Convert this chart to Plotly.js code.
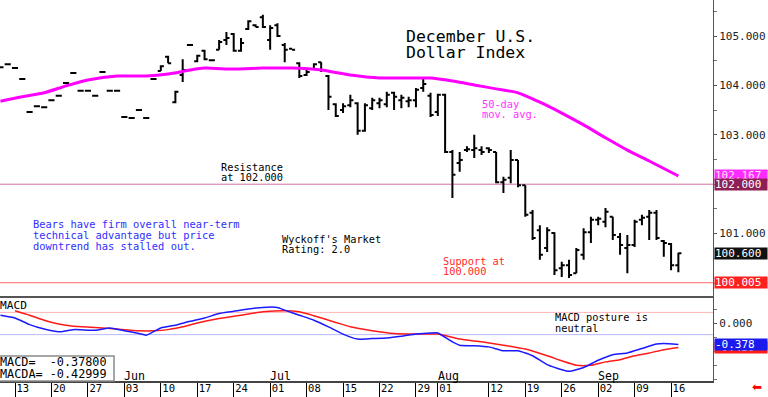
<!DOCTYPE html>
<html><head><meta charset="utf-8">
<script src="https://cdn.plot.ly/plotly-3.0.1.min.js"></script>
<style>html,body{margin:0;padding:0;background:#fff;}#chart{width:768px;height:397px;}</style>
</head><body><div id="chart"></div>
<script>
// ---------- DATA ----------
const firstBar = -2; // bar index of first bar (May 13 = 0)
const open  = [104.37,104.43,104.35,104.13,103.46,103.58,103.56,103.70,103.79,104.05,104.25,103.89,103.89,103.79,104.27,103.89,103.89,103.36,103.34,103.50,103.34,104.13,
  104.29,104.58,103.66,104.21,104.82,104.49,104.70,104.51,104.72,104.92,105.04,104.70,105.14,105.22,105.38,104.92,105.22,104.82,104.74,104.45,104.21,104.33,104.47,
  104.19,103.62,103.50,103.60,103.64,103.08,103.54,103.64,103.62,103.85,103.70,103.68,103.70,103.95,103.79,103.46,103.81,102.65,102.43,102.69,102.69,102.69,102.73,
  102.65,102.04,102.13,102.49,101.98,101.42,101.07,100.71,101.01,100.30,100.36,100.20,100.57,101.03,101.28,101.24,101.34,100.93,100.71,100.77,101.28,101.34,101.42,
  100.85,100.79,100.36];
const high  = [104.37,104.43,104.35,104.13,103.46,103.58,103.56,103.70,103.79,104.05,104.25,103.89,103.89,103.79,104.27,103.89,103.89,103.36,103.34,103.50,103.34,104.13,
  104.41,104.60,103.89,104.53,104.82,104.62,104.72,104.51,104.92,105.08,105.06,104.96,105.32,105.24,105.43,105.22,105.26,104.86,104.74,104.47,104.31,104.45,104.47,
  104.21,103.64,103.64,103.81,103.66,103.64,103.75,103.75,103.87,103.87,103.81,103.77,103.95,104.15,103.85,103.83,103.83,102.69,102.65,102.77,103.00,102.77,102.75,
  102.65,102.15,102.69,102.49,101.98,101.48,101.17,101.13,101.03,100.43,100.47,100.71,101.11,101.34,101.34,101.52,101.34,101.01,100.97,101.28,101.38,101.48,101.48,
  100.87,100.81,100.61];
const low   = [104.37,104.43,104.35,104.13,103.46,103.58,103.56,103.70,103.79,104.05,104.25,103.89,103.89,103.79,104.27,103.89,103.89,103.36,103.34,103.50,103.34,104.13,
  104.29,104.45,103.64,104.07,104.82,104.47,104.51,104.51,104.72,104.82,104.68,104.68,105.12,105.18,105.16,104.72,104.98,104.47,104.72,104.15,104.19,104.31,104.27,
  103.50,103.36,103.44,103.56,103.00,103.06,103.50,103.54,103.56,103.50,103.54,103.56,103.56,103.87,103.36,103.38,102.63,101.72,102.25,102.65,102.53,102.59,102.63,
  102.02,101.82,102.02,101.94,101.34,100.87,100.47,100.63,100.16,100.12,100.10,100.20,100.47,100.81,101.17,101.13,100.87,100.57,100.20,100.73,101.17,100.87,100.87,
  100.53,100.26,100.22];
const close = [104.37,104.43,104.35,104.13,103.46,103.58,103.56,103.70,103.79,104.05,104.25,103.89,103.89,103.79,104.27,103.89,103.89,103.36,103.34,103.50,103.34,104.13,
  104.39,104.45,103.87,104.31,104.82,104.60,104.53,104.51,104.88,104.96,104.70,104.86,105.30,105.18,105.18,105.16,105.00,104.72,104.72,104.19,104.27,104.43,104.31,
  103.77,103.38,103.58,103.70,103.08,103.60,103.70,103.70,103.81,103.77,103.75,103.70,103.91,104.03,103.40,103.81,102.65,102.19,102.49,102.71,102.73,102.65,102.69,
  102.04,102.09,102.49,101.98,101.38,100.91,100.57,101.07,100.26,100.36,100.16,100.67,101.03,101.28,101.30,101.44,100.97,100.77,100.77,101.24,101.32,101.42,100.91,
  100.81,100.36,100.60];

const maIdx = [-2,1,4,7,10,14,18,21,24,26,30,34,38,42,46,50,54,57,60,63,66,69,72,75,78,81,84,87,91];
const maVal = [103.68,103.77,103.85,103.99,104.11,104.19,104.19,104.23,104.31,104.35,104.33,104.35,104.35,104.31,104.21,104.15,104.15,104.15,104.09,104.01,103.93,103.85,103.66,103.44,103.20,102.94,102.69,102.47,102.167];

const macdIdx = [-2,0,2,4,6,8,11,13,15,17,18,20,22,24,26,28,30,32,34,36,37,39,41,43,45,47,49,51,53,55,57,58,60,61,63,65,67,69,71,73,75,76,78,80,82,84,86,88,89,91];
const macdVal = [0.15,0.10,-0.02,-0.10,-0.15,-0.11,-0.12,-0.08,-0.13,-0.18,-0.21,-0.08,-0.03,0.04,0.10,0.18,0.22,0.26,0.29,0.29,0.24,0.15,0.06,-0.06,-0.19,-0.28,-0.27,-0.26,-0.23,-0.19,-0.17,-0.17,-0.33,-0.39,-0.40,-0.42,-0.49,-0.49,-0.58,-0.74,-0.83,-0.86,-0.79,-0.66,-0.56,-0.53,-0.45,-0.37,-0.36,-0.378];

const sigIdx = [0,2,4,6,8,11,14,17,19,21,23,25,28,31,34,37,39,41,44,46,49,52,55,58,61,64,67,70,73,75,77,79,81,83,85,87,89,91];
const sigVal = [0.23,0.15,0.06,-0.01,-0.05,-0.07,-0.10,-0.13,-0.13,-0.11,-0.06,0.01,0.09,0.15,0.21,0.23,0.21,0.14,0.02,-0.06,-0.13,-0.18,-0.19,-0.19,-0.28,-0.33,-0.39,-0.46,-0.58,-0.67,-0.75,-0.75,-0.69,-0.65,-0.58,-0.53,-0.47,-0.42999];

const tickIdx    = [0,5,10,15,20,25,30,35,40,45,50,55,58,65,70,75,80,85,90];
const tickLabels = ['13','20','27','03','10','17','24','01','08','15','22','29','01','12','19','26','02','09','16'];
const monthIdx    = [15,35,58,80];
const monthLabels = ['Jun','Jul','Aug','Sep'];

const resistance = 102.000;
const support = 100.005;
const macdLevels = [0.2,-0.2];

// ---------- CHART ----------
const barIdx = open.map((_, i) => firstBar + i);
const MONO = '"DejaVu Sans Mono", monospace';
const PW = 713, PH = 381;
const xr = [-2.06, 95.75];

function txt(text, xpx, ypx, size, color, family) {
  return {xref:'paper', yref:'paper', x:xpx/PW, y:(PH-ypx)/PH, xanchor:'left', yanchor:'middle',
    text:text, showarrow:false, borderpad:0, font:{family:family||MONO, size:size, color:color||'#000'}};
}
function tag(text, yval, yref, bg, fg) {
  return {xref:'paper', x:1, xanchor:'left', xshift:1, yref:yref, y:yval, yanchor:'middle', text:text,
    showarrow:false, bgcolor:bg, width:52, height:11, borderpad:0, align:'left',
    font:{family:MONO, size:11, color:fg}};
}

const traces = [
  {type:'scatter', mode:'lines', x:maIdx, y:maVal, xaxis:'x', yaxis:'y',
   line:{color:'#ff00ff', width:3, shape:'spline', smoothing:0.6}, hoverinfo:'skip', showlegend:false},
  {type:'ohlc', x:barIdx, open:open, high:high, low:low, close:close, xaxis:'x', yaxis:'y',
   increasing:{line:{color:'#000', width:2}}, decreasing:{line:{color:'#000', width:2}},
   tickwidth:0.42, hoverinfo:'skip', showlegend:false},
  {type:'scatter', mode:'lines', x:sigIdx, y:sigVal, xaxis:'x2', yaxis:'y2',
   line:{color:'#ff1a1a', width:1.5, shape:'spline', smoothing:0.5}, hoverinfo:'skip', showlegend:false},
  {type:'scatter', mode:'lines', x:macdIdx, y:macdVal, xaxis:'x2', yaxis:'y2',
   line:{color:'#1a1aff', width:1.5, shape:'spline', smoothing:0.5}, hoverinfo:'skip', showlegend:false}
];

const shapes = [
  {type:'line', xref:'x domain', x0:0, x1:1, yref:'y', y0:resistance, y1:resistance, line:{color:'#d070a8', width:1}, layer:'below'},
  {type:'line', xref:'x domain', x0:0, x1:1, yref:'y', y0:support, y1:support, line:{color:'#ff6a6a', width:1}, layer:'below'},
  {type:'line', xref:'x2 domain', x0:0, x1:1, yref:'y2', y0:macdLevels[0], y1:macdLevels[0], line:{color:'#ffb4b4', width:1}, layer:'below'},
  {type:'line', xref:'x2 domain', x0:0, x1:1, yref:'y2', y0:macdLevels[1], y1:macdLevels[1], line:{color:'#b8b8ff', width:1}, layer:'below'},
  {type:'rect', xref:'paper', yref:'paper', x0:-2/PW, x1:114/PW, y0:0, y1:(PH-356)/PH, line:{color:'#8a8a8a', width:1.5}, fillcolor:'#fff'}
];

const nb = '\u00a0';
const lastMacd = macdVal[macdVal.length-1], lastSig = sigVal[sigVal.length-1];
const annotations = [
  txt('December U.S.', 405, 36, 16.5), txt('Dollar Index', 405, 52, 16.5),
  txt('50-day', 481, 104, 10.3, '#ff33ff'), txt('mov. avg.', 481, 114.5, 10.3, '#ff33ff'),
  txt('Resistance', 220, 167, 10.3), txt('at 102.000', 220, 177, 10.3),
  txt('Bears have firm overall near-term', 32, 224, 10.4, '#2e2eff'),
  txt('technical advantage but price', 32, 235, 10.4, '#2e2eff'),
  txt('downtrend has stalled out.', 32, 246, 10.4, '#2e2eff'),
  txt("Wyckoff's Market", 281, 238.5, 10.3), txt('Rating: 2.0', 281, 249, 10.3),
  txt('Support at', 442, 261, 10.3, '#ff2a2a'), txt('100.000', 442, 271, 10.3, '#ff2a2a'),
  txt('MACD', -1, 305, 11.2),
  txt('MACD posture is', 554, 317, 10.3), txt('neutral', 554, 327.5, 10.3),
  txt('MACD=' + nb + nb + lastMacd.toFixed(5), -1, 362, 11.8),
  txt('MACDA=' + nb + lastSig.toFixed(5), -1, 374, 11.8),
  txt('\u2B05', 751, 387, 12, '#ff0000', '"DejaVu Sans", sans-serif')
];
monthIdx.forEach((m, i) => annotations.push({xref:'x2', x:m, xanchor:'left', xshift:-1, yref:'paper', y:(PH-375.5)/PH, yanchor:'middle',
  text:monthLabels[i], showarrow:false, borderpad:0, font:{family:MONO, size:11.6, color:'#000'}}));
annotations.push(tag(maVal[maVal.length-1].toFixed(3), maVal[maVal.length-1], 'y', '#ff2cff', '#ffe0ff'));
annotations.push(tag(resistance.toFixed(3), resistance, 'y', '#8e1f55', '#fff'));
annotations.push(tag(close[close.length-1].toFixed(3), close[close.length-1], 'y', '#111', '#fff'));
annotations.push(tag(support.toFixed(3), support, 'y', '#ff2020', '#fff'));
annotations.push(tag(lastSig.toFixed(3), lastSig, 'y2', '#ff1a1a', '#fff'));
annotations.push(tag(lastMacd.toFixed(3), lastMacd, 'y2', '#1a1aee', '#fff'));

const priceTicks = [101,103,104,105];
const layout = {
  width:768, height:397, margin:{l:0, r:55, t:0, b:16},
  paper_bgcolor:'#fff', plot_bgcolor:'#fff', showlegend:false,
  xaxis:{domain:[0,1], anchor:'y', range:xr, showticklabels:false, ticks:'', showgrid:false, zeroline:false,
    showline:true, linecolor:'#555', linewidth:2, rangeslider:{visible:false}, fixedrange:true},
  yaxis:{domain:[(PH-296)/PH, 1], anchor:'x', side:'right', range:[99.737, 105.729], showgrid:false, zeroline:false,
    showline:true, linecolor:'#555', linewidth:1, ticks:'outside', ticklen:3, tickcolor:'#555',
    tickvals:priceTicks, ticktext:priceTicks.map(v => v.toFixed(3)),
    tickfont:{family:MONO, size:11, color:'#222'},
    minor:{dtick:0.5, ticks:'outside', ticklen:3, tickcolor:'#777', showgrid:false}},
  xaxis2:{domain:[0,1], anchor:'y2', range:xr, showgrid:false, zeroline:false,
    showline:true, linecolor:'#444', linewidth:2,
    ticks:'outside', ticklen:16, tickwidth:1, tickcolor:'#000',
    tickvals:tickIdx, ticktext:tickLabels, ticklabelposition:'outside right', ticklabelstandoff:-4,
    tickfont:{family:MONO, size:10.5, color:'#000'}},
  yaxis2:{domain:[0, (PH-298)/PH], anchor:'x2', side:'right', range:[-1.034, 0.459], showgrid:false, zeroline:false,
    showline:true, linecolor:'#555', linewidth:1, ticks:'outside', ticklen:3, tickcolor:'#555',
    tickvals:[0], ticktext:['0.000'], tickfont:{family:MONO, size:11, color:'#222'},
    minor:{dtick:0.25, ticks:'outside', ticklen:3, tickcolor:'#777', showgrid:false}},
  shapes:shapes, annotations:annotations
};
Plotly.newPlot('chart', traces, layout, {displayModeBar:false, staticPlot:true});
</script>
</body></html>
